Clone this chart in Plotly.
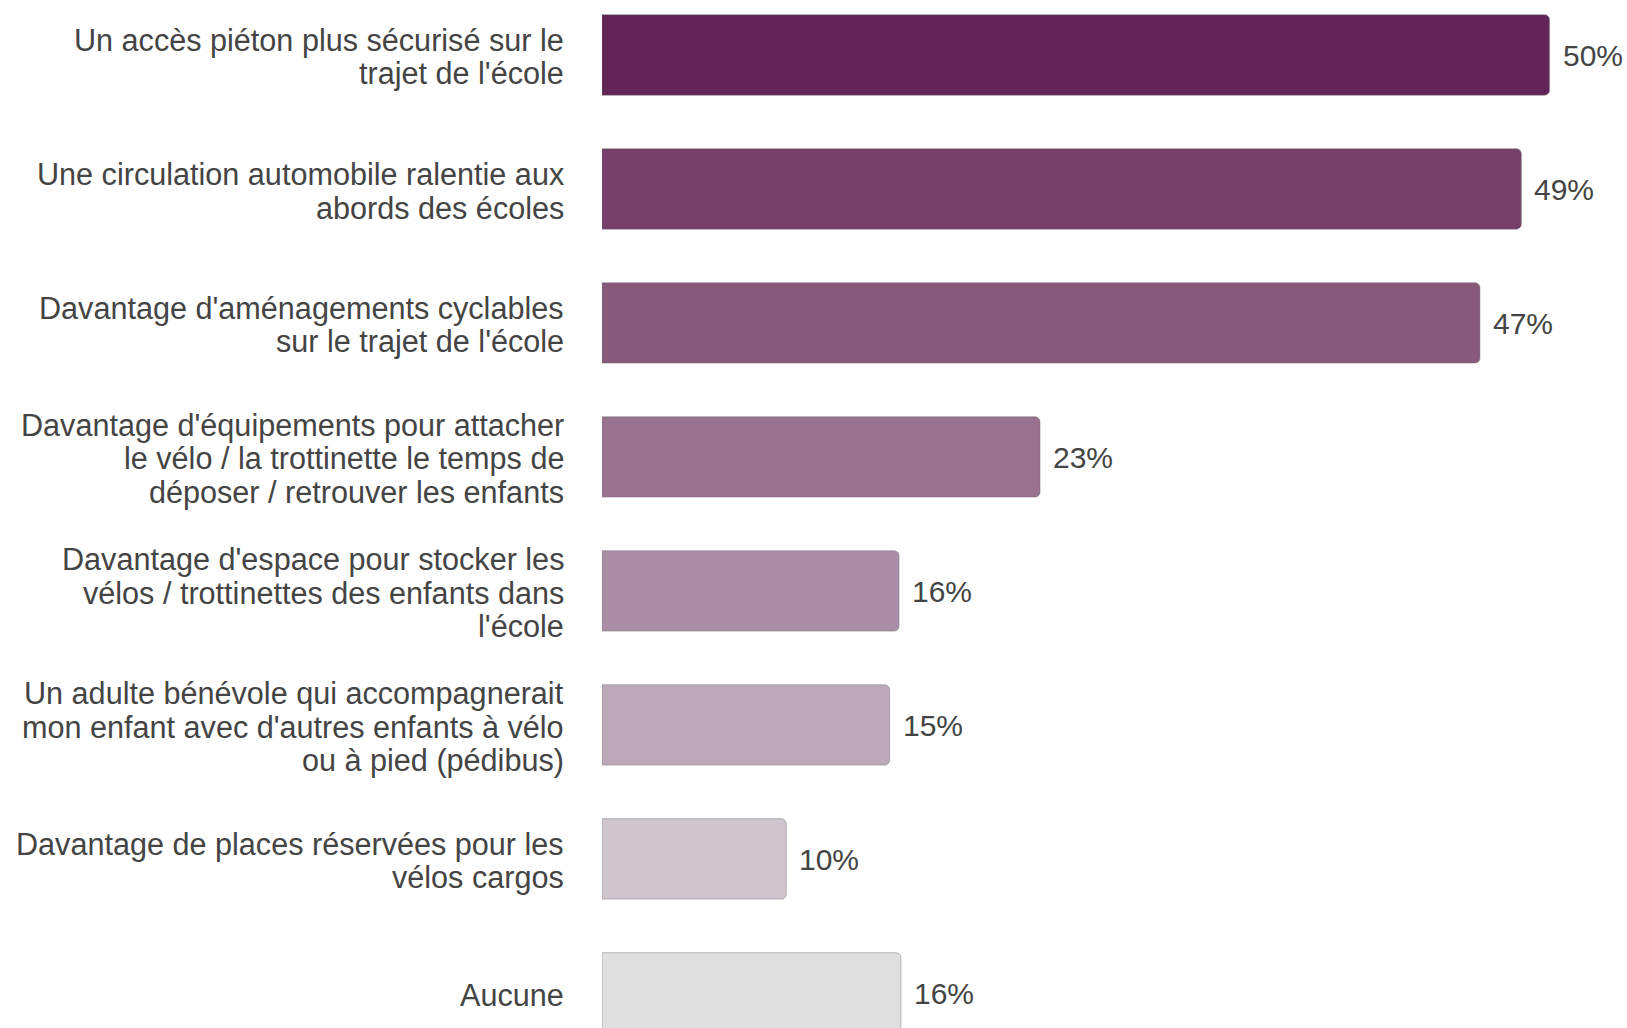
import plotly.graph_objects as go

# ---- data ----
categories = [
    "Un accès piéton plus sécurisé sur le<br>trajet de l'école",
    "Une circulation automobile ralentie aux<br>abords des écoles",
    "Davantage d'aménagements cyclables<br>sur le trajet de l'école",
    "Davantage d'équipements pour attacher<br>le vélo / la trottinette le temps de<br>déposer / retrouver les enfants",
    "Davantage d'espace pour stocker les<br>vélos / trottinettes des enfants dans<br>l'école",
    "Un adulte bénévole qui accompagnerait<br>mon enfant avec d'autres enfants à vélo<br>ou à pied (pédibus)",
    "Davantage de places réservées pour les<br>vélos cargos",
    "Aucune",
]
values = [50.4, 48.9, 46.7, 23.3, 15.8, 15.3, 9.8, 15.9]
colors = ["#632457", "#763F6A", "#875A7B", "#98728F",
          "#AB8EA6", "#BCA8B9", "#D0C4CD", "#E0E0E0"]

FONT = "Liberation Sans, Arial, Helvetica, sans-serif"
TXT = "#444444"

W, H = 1627, 1028
left = 602
px_per_unit = 18.8
xmax = (W - left) / px_per_unit

fig = go.Figure()
fig.add_trace(go.Bar(
    y=categories,
    x=values,
    orientation="h",
    width=0.6,
    marker=dict(color=colors, cornerradius=5,
                line=dict(color="rgba(110,110,110,0.45)", width=1)),
    cliponaxis=False,
    hoverinfo="skip",
))

annotations = []
# value labels
for cat, v in zip(categories, values):
    annotations.append(dict(
        x=v, xref="x", xanchor="left", xshift=11,
        y=cat, yref="y", yanchor="middle", yshift=-1,
        text=f"{v:.0f}%", showarrow=False,
        font=dict(family=FONT, size=30, color=TXT),
    ))

# category labels, one annotation per line for tight line spacing
line_gap = 33.5
for cat in categories:
    lines = cat.split("<br>")
    n = len(lines)
    for j, ln in enumerate(lines):
        annotations.append(dict(
            x=0, xref="paper", xanchor="right", xshift=-36,
            y=cat, yref="y", yanchor="middle",
            yshift=((n - 1) / 2 - j) * line_gap - 2,
            text=ln, showarrow=False,
            font=dict(family=FONT, size=30.6, color=TXT),
        ))

fig.update_layout(
    width=W, height=H,
    margin=dict(l=left, r=0, t=0, b=0),
    paper_bgcolor="white", plot_bgcolor="white",
    showlegend=False,
    annotations=annotations,
    xaxis=dict(range=[0, xmax], visible=False, fixedrange=True),
    yaxis=dict(categoryorder="array", categoryarray=categories,
               range=[7.262, -0.41], showticklabels=False,
               showgrid=False, zeroline=False, showline=False,
               ticks="", fixedrange=True),
)

fig.write_html(
    "out.html",
    config={"displayModeBar": False},
    post_script="document.body.style.margin='0';document.body.style.overflow='hidden';"
                "document.documentElement.style.overflow='hidden';",
)
